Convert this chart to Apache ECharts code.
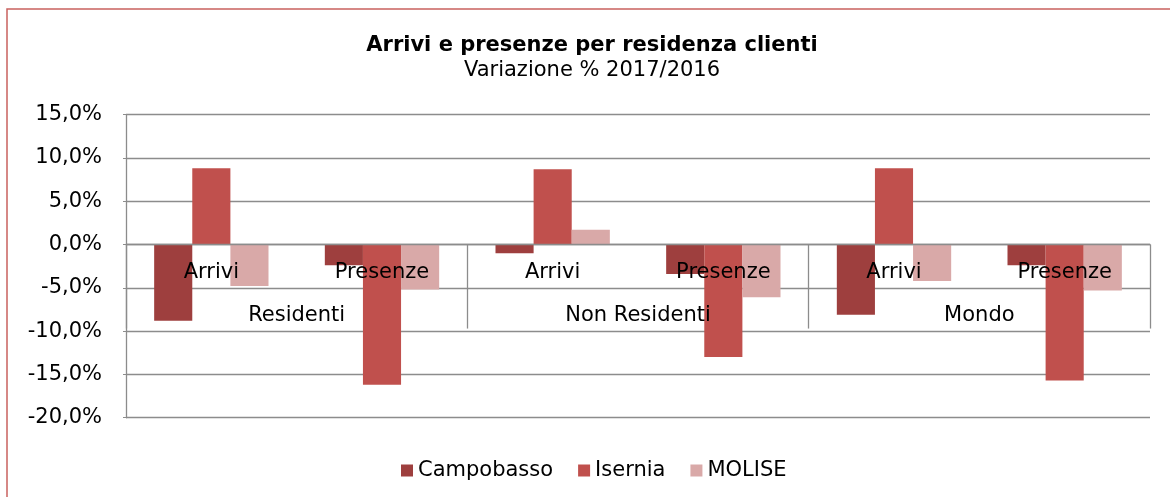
<!DOCTYPE html>
<html>
<head>
<meta charset="utf-8">
<script src="https://cdn.jsdelivr.net/npm/echarts@6/dist/echarts.min.js"></script>
<style>
html,body{margin:0;padding:0;background:#fff;}
#chart{width:1170px;height:497px;}
</style>
</head>
<body>
<div id="chart"></div>
<script>
const innerCategories = ['Arrivi', 'Presenze', 'Arrivi', 'Presenze', 'Arrivi', 'Presenze'];
const outerCategories = ['Residenti', 'Non Residenti', 'Mondo'];
const seriesNames = ['Campobasso', 'Isernia', 'MOLISE'];
const campobasso = [-8.8, -2.4, -1.0, -3.4, -8.1, -2.4];
const isernia = [8.8, -16.2, 8.7, -13.0, 8.8, -15.7];
const molise = [-4.8, -5.2, 1.7, -6.1, -4.2, -5.3];
const yTicks = { min: -20, max: 15, interval: 5 };

const FONT = 'DejaVu Sans';
const colors = ['#9e3f3e', '#c0504d', '#d9a9a8'];
const gridColor = '#8c8c8c';

const GRID_TOP = 114.7, GRID_BOTTOM = 79.3, H = 497;
const plotH = H - GRID_TOP - GRID_BOTTOM;
// distance from grid bottom to the zero line, derived from the axis range
const zeroOffset = -plotH * (0 - yTicks.min) / (yTicks.max - yTicks.min);

const chart = echarts.init(document.getElementById('chart'), null, { renderer: 'canvas' });
const values = [campobasso, isernia, molise];

chart.setOption({
  animation: false,
  color: colors,
  textStyle: { fontFamily: FONT, color: '#000' },
  graphic: [{
    type: 'rect', silent: true, z: -10,
    shape: { x: 7, y: 9, width: 1300, height: 700 },
    style: { fill: 'none', stroke: '#c9625f', lineWidth: 1.5 }
  }],
  title: {
    text: 'Arrivi e presenze per residenza clienti',
    subtext: 'Variazione % 2017/2016',
    left: 587, top: 30, textAlign: 'center', itemGap: 4,
    textStyle: { fontFamily: FONT, fontSize: 21, fontWeight: 'bold', color: '#000' },
    subtextStyle: { fontFamily: FONT, fontSize: 21, color: '#000' }
  },
  legend: {
    data: seriesNames,
    left: 396, top: 455,
    icon: 'rect', itemWidth: 12, itemHeight: 12, itemGap: 25,
    textStyle: { fontFamily: FONT, fontSize: 21, color: '#000' }
  },
  grid: { left: 126, right: 20, top: GRID_TOP, bottom: GRID_BOTTOM },
  xAxis: [{
    type: 'category', data: innerCategories, position: 'bottom', z: 10,
    offset: zeroOffset,
    axisLine: { onZero: false, lineStyle: { color: gridColor, width: 1.3 } },
    axisTick: { show: false },
    axisLabel: { margin: 17, fontFamily: FONT, fontSize: 21, color: '#000', interval: 0 }
  }, {
    type: 'category', data: outerCategories, position: 'bottom', z: 10,
    offset: zeroOffset,
    axisLine: { show: false, onZero: false },
    axisTick: { show: true, length: 84, interval: 0, lineStyle: { color: gridColor, width: 1.3 } },
    axisLabel: { margin: 60, fontFamily: FONT, fontSize: 21, color: '#000', interval: 0 }
  }],
  yAxis: {
    type: 'value', min: yTicks.min, max: yTicks.max, interval: yTicks.interval,
    axisLine: { show: true, lineStyle: { color: gridColor, width: 1.3 } },
    axisTick: { show: true, length: 3, lineStyle: { color: gridColor } },
    splitLine: { lineStyle: { color: gridColor, width: 1.3 } },
    axisLabel: {
      margin: 24, fontFamily: FONT, fontSize: 21, color: '#000',
      formatter: v => v.toFixed(1).replace('.', ',') + '%'
    }
  },
  series: seriesNames.map((name, i) => ({
    name, type: 'bar', data: values[i], xAxisIndex: 0,
    barGap: '0%', barCategoryGap: '33%',
    itemStyle: { color: colors[i] }
  }))
});
</script>
</body>
</html>
